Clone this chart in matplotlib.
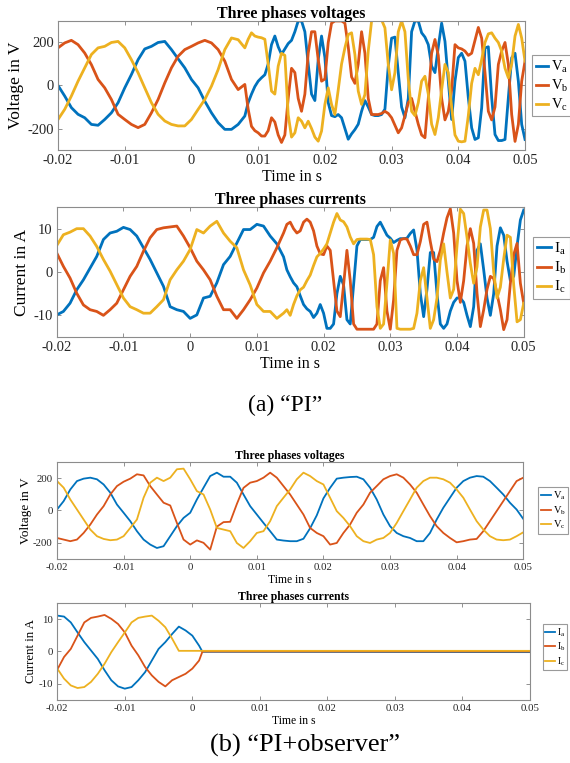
import numpy as np
import matplotlib
matplotlib.use('Agg')
import matplotlib.pyplot as plt

plt.rcParams['font.family'] = 'Liberation Serif'
plt.rcParams['mathtext.fontset'] = 'custom'
plt.rcParams['mathtext.rm'] = 'Liberation Serif'
plt.rcParams['mathtext.it'] = 'Liberation Serif:italic'
plt.rcParams['mathtext.bf'] = 'Liberation Serif:bold'

colores = ['#0072BD', '#D95319', '#EDB120']

# ---------- (a) PI : tensiones ----------
t_pi_v = np.concatenate([np.arange(-20, 9) * 1e-3, np.arange(17, 101) * 5e-4])
va_pi = [0, -49, -103, -134, -150, -181, -185, -158, -127, -80, -11, 51, 120, 170, 182,
         200, 205, 167, 124, 82, 28, -11, -73, -127, -173, -204, -204, -181, -142,
         -80, -40, -5, 20, 36, 50, 100, 190, 230, 180,
         145, 170, 195, 210, 250, 300, 300, 250, 100, -40,
         -70, 120, 230, 130, -80, -140, -145, -135, -150, -200,
         -250, -225, -205, -180, -120, -70, -100, -135, -140, -140,
         -135, -110, 90, 220, 225, 60, -100, -150, -60, 250,
         300, 300, 245, 225, 190, 90, 60, 180, 290, 205,
         20, -158, 20, 130, 150, 113, -57, -197, -251, -243,
         -104, 175, 180, -57, -228, -256, -256, -251, -57, 129,
         150, 20, -181, -251]
vb_pi = [175, 198, 210, 190, 151, 97, 28, -11, -65, -134, -158, -181, -196, -181, -127,
         -65, 12, 82, 136, 167, 182, 198, 210, 198, 167, 113, 28, -19, 5,
         -110, -190, -210, -220, -235, -235, -210, -150, -170, -230,
         -265, -230, -60, 80, 60, -60, -120, -40, 150, 250,
         250, 120, 20, 30, 200, 290, 300, 300, 300, 290,
         180, 40, 10, 100, 250, 150, -60, -135, -135, -135,
         -130, -120, -130, -150, -185, -220, -197, -140, -80, -60,
         -120, -180, -230, -243, -60, 150, 214, 140, -60, -160,
         -120, -20, 190, 175, 170, 160, 140, 150, 210, 270,
         220, 60, -120, -160, -100, 98, 160, 200, 98, -135,
         -260, -181, 20, 113]
vc_pi = [-158, -111, -49, 20, 82, 144, 175, 182, 200, 205, 175, 120, 59, -11, -80,
         -134, -165, -181, -188, -188, -158, -111, -65, -3, 74, 167, 221, 213, 175,
         215, 245, 230, 225, 222, 215, 100, -26, -40, 90,
         150, 140, -135, -240, -220, -150, -166, -197, -166, -200,
         -240, -259, -212, -88, -11, -88, -135, -20, 100, 175,
         237, 245, 144, -26, -88, -42, 160, 300, 305, 305,
         305, 268, 98, -20, 60, 250, 300, 250, 30, -120,
         -140, -80, 20, 43, -40, -180, -228, -150, -20, 98,
         60, -100, -230, -259, -262, -259, -140, 10, 80, 50,
         120, 200, 240, 245, 220, 200, 160, 80, 36, 100,
         230, 284, 220, 113]

# ---------- (a) PI : corrientes ----------
t_pi_i = np.concatenate([np.arange(-20, 15) * 1e-3, np.arange(29, 101) * 5e-4])
ia_pi = [-9.9, -9.1, -7.2, -4.1, -1.8, 0.9, 3.6, 7.5, 9.0, 9.4,
         10.3, 9.8, 8.3, 5.6, 2.9, -0.2, -3.3, -8.0, -8.7, -9.1,
         -10.7, -9.9, -6.0, -5.6, -2.5, 1.7, 3.6, 6.7, 9.8, 9.8,
         11.0, 10.6, 8.3, 6.5, 3.5,
         0.5, -1.1, -2.5, -3.4, -5.5, -7.5, -8.5, -9.1, -10.5, -9.5,
         -7.5, -9.5, -13, -13, -12, -5, -1, -3, -11, -12,
         -3, 6, 7.5, 7.5, 7.5, 7.5, 8, 10.5, 11.5, 10,
         8.5, 7.8, 6.8, 7.3, 7.7, 7.7, 7.8, 8.9, 9.7, 5.1,
         -4.9, -10.3, -4, 4.5, 4.5, -5, -12, -13, -12, -9,
         -7, -6, -6, -7, -10, -12.6, -8, 5, 6.5, 0.5,
         -6, -10, -5, 6, 10.2, 8.5, 2.5, -2, -1, 6,
         12, 14.3]
ib_pi = [4.4, 1.3, -1.4, -4.9, -7.6, -8.7, -9.1, -10.0, -8.7, -7.2,
         -4.1, -1.0, 1.3, 4.8, 7.9, 9.8, 10.2, 10.4, 10.6, 8.3,
         5.6, 2.5, 0.5, -1.8, -5.6, -8.7, -8.7, -10.7, -8.7, -6.4,
         -3.7, -0.2, 2.5, 5.6, 9.0,
         11, 11.5, 10, 9, 9.5, 11.5, 12.2, 11.5, 9.5, 6,
         4.2, 4, 6, 5, -2, -9, -10.3, -3, 5, -2,
         -12, -13.2, -13.2, -13.2, -13.2, -13.2, -13.2, -12, -2, 1,
         -9, -13.2, -6.4, 5, 7.4, 7.7, 7.6, 6, 4, 4,
         7, 11, 11.5, 7, 3, 2.4, 5, 9, 12.5, 14.6,
         9, -2, -7, -2, 6, 10, 6.6, -4.9, -12.6, -8.7,
         -4, -1, -1.5, -5, -8.7, -13.3, -11, -2.6, 4, 6.6,
         -2.6, -7.2]
ic_pi = [6.1, 8.6, 9.2, 10.0, 10.0, 8.3, 5.9, 2.9, 0.2, -2.9,
         -6.0, -8.0, -8.7, -9.5, -9.5, -8.0, -6.4, -1.8, 0.5, 2.5,
         5.2, 9.8, 9.0, 10.6, 11.7, 9.0, 7.1, 5.6, 0.5, -3.0,
         -7.5, -9.1, -9.1, -10.7, -9.5,
         -8.7, -10, -7.5, -5.5, -4.1, -3.5, -2, -0.7, 1.5, 3.5,
         4.3, 5.3, 6.5, 9, 11.5, 13.5, 12, 11.6, 10.4, 8.1,
         6.5, 7.5, 7.6, 7.6, 7.6, 7.5, 4, -8, -13, -12,
         -2.6, 7.4, 4.3, -13, -13.2, -13.2, -13.2, -13.2, -13, -9.5,
         -2, 1, -6, -13, -11, -6, 2.8, 6.5, 0, -6,
         -4, 6, 14.5, 13.5, 8, 2, -2.6, 1.2, 10.4, 14.3,
         14.3, 10, 0, -6, -3.5, 3, 8.5, 8, -3, -11.5,
         -11, -7.2]

# ---------- (b) PI+observer : tensiones ----------
t_obs_v = np.arange(-20, 51) * 1e-3
va_obs = [6, 58, 130, 182, 197, 203, 193, 161, 110, 37,
          -14, -66, -128, -180, -211, -232, -221, -159, -97, -46,
          -14, 68, 141, 213, 234, 209, 209, 172, 99, 27,
          -25, -77, -128, -180, -186,
          -190, -190, -175, -110, -30, 75, 140, 197, 203, 207,
          209, 193, 141, 68, -25, -97, -139, -159, -170, -190,
          -190, -139, -56, 17, 79, 141, 182, 203, 213, 209,
          182, 141, 99, 48, 6, -52]
vb_obs = [-170, -180, -190, -180, -139, -87, -25, 27, 99, 151,
          178, 197, 224, 217, 151, 99, 48, 31, -77, -180,
          -211, -185, -200, -242, -100, -72, -70, 40, 140, 172,
          182, 203, 234, 203, 151,
          99, 37, -25, -108, -139, -159, -211, -201, -139, -87,
          -14, 37, 110, 151, 193, 213, 224, 203, 161, 110,
          37, -35, -97, -139, -170, -197, -190, -180, -176, -128,
          -66, -4, 58, 120, 182, 203]
vc_obs = [182, 141, 68, 6, -56, -118, -159, -176, -184, -180,
          -159, -108, -56, 79, 172, 203, 182, 203, 255, 259,
          193, 120, 99, 6, -108, -118, -128, -201, -232, -190,
          -139, -128, -66, 27, 79,
          130, 193, 234, 213, 182, 161, 79, -4, -46, -97,
          -159, -190, -201, -180, -170, -139, -77, -4, 68, 141,
          182, 203, 203, 193, 172, 130, 79, 6, -66, -118,
          -159, -180, -184, -180, -159, -135]

# ---------- (b) PI+observer : corrientes ----------
t_obs_i = np.append(np.arange(-20, 2) * 1e-3, [0.0015, 0.05])
ia_obs = [11.1, 10.8, 9.0, 5.9, 2.9, 0.3, -2.3, -5.8, -8.9, -10.8,
          -11.5, -11.0, -8.9, -6.4, -2.8, 0.8, 2.9, 5.4, 7.7, 6.5,
          4.9, 1.8, -0.1, -0.2]
ib_obs = [-5.6, -1.7, 0.8, 4.9, 9.0, 10.4, 10.8, 11.3, 10.1, 8.5,
          5.9, 1.8, -1.2, -4.8, -7.4, -9.4, -10.8, -8.9, -7.9, -6.9,
          -5.3, -2.8, 0.0, 0.0]
ic_obs = [-5.3, -8.4, -10.5, -11.3, -11.0, -9.4, -6.9, -3.8, -0.2, 2.9,
          5.9, 9.0, 10.4, 10.8, 11.1, 9.5, 7.5, 4.0, 0.2, 0.2,
          0.2, 0.2, 0.2, 0.2]

x_ticks = [-0.02, -0.01, 0, 0.01, 0.02, 0.03, 0.04, 0.05]
x_labels = ['-0.02', '-0.01', '0', '0.01', '0.02', '0.03', '0.04', '0.05']

fig = plt.figure(figsize=(5.7, 7.63), dpi=100)


def panel(rect, t, series, labels, ylim, yticks, ylabels, title, ylabel,
          fs, lw, leg_xy, ylab_x, hlen=0.95):
    ax = fig.add_axes(rect)
    for s, c, lab in zip(series, colores, labels):
        ax.plot(t, s, color=c, lw=lw, label=lab)
    ax.set_xlim(-0.02, 0.05)
    ax.set_ylim(ylim)
    ax.set_xticks(x_ticks)
    ax.set_xticklabels(x_labels)
    ax.set_yticks(yticks)
    ax.set_yticklabels(ylabels)
    ax.tick_params(direction='in', top=True, right=True, labelsize=fs[0],
                   length=3, width=0.6, color='#808080', labelcolor='#262626', pad=3)
    for sp in ax.spines.values():
        sp.set_color('#8c8c8c')
        sp.set_linewidth(0.8)
    ax.set_title(title, fontweight='bold', fontsize=fs[1], pad=2.5)
    ax.set_xlabel('Time in s', fontsize=fs[2], labelpad=1)
    ax.set_ylabel(ylabel, fontsize=fs[3])
    ax.yaxis.set_label_coords(ylab_x, 0.5)
    leg = ax.legend(loc='upper left', bbox_to_anchor=leg_xy, bbox_transform=fig.transFigure,
                    fontsize=fs[4], fancybox=False, edgecolor='#9a9a9a', framealpha=1,
                    borderpad=0.25, handlelength=hlen, handletextpad=0.2,
                    labelspacing=0.2, borderaxespad=0)
    leg.get_frame().set_linewidth(0.8)
    return ax


panel([0.1018, 0.8034, 0.8193, 0.1691], t_pi_v, [va_pi, vb_pi, vc_pi],
      [r'V$_\mathrm{a}$', r'V$_\mathrm{b}$', r'V$_\mathrm{c}$'],
      (-300, 300), [-200, 0, 200], ['-200', '0', '200'],
      'Three phases voltages', 'Voltage in V', (10.5, 11.5, 11.5, 12.5, 10.5), 2.0,
      (0.9333, 0.9279), -0.072, hlen=0.85)

panel([0.0995, 0.5583, 0.8193, 0.1704], t_pi_i, [ia_pi, ib_pi, ic_pi],
      [r'I$_\mathrm{a}$', r'I$_\mathrm{b}$', r'I$_\mathrm{c}$'],
      (-15, 15), [-10, 0, 10], ['-10', '0', '10'],
      'Three phases currents', 'Current in A', (10.5, 11.5, 11.5, 12.5, 11), 2.0,
      (0.9350, 0.6894), -0.058)

panel([0.1000, 0.2674, 0.8180, 0.1271], t_obs_v, [va_obs, vb_obs, vc_obs],
      [r'V$_\mathrm{a}$', r'V$_\mathrm{b}$', r'V$_\mathrm{c}$'],
      (-300, 300), [-200, 0, 200], ['-200', '0', '200'],
      'Three phases voltages', 'Voltage in V', (7.8, 8.5, 8.4, 9.5, 7.5), 1.3,
      (0.9439, 0.3617), -0.054)

panel([0.1005, 0.0826, 0.8293, 0.1271], t_obs_i, [ia_obs, ib_obs, ic_obs],
      [r'I$_\mathrm{a}$', r'I$_\mathrm{b}$', r'I$_\mathrm{c}$'],
      (-15, 15), [-10, 0, 10], ['-10', '0', '10'],
      'Three phases currents', 'Current in A', (7.8, 8.5, 8.4, 9.3, 7.0), 1.3,
      (0.9526, 0.1822), -0.042)

fig.text(0.5, 1 - 405 / 763, '(a) \u201cPI\u201d', ha='center', va='center', fontsize=17)
fig.text(0.535, 1 - 745 / 763, '(b) \u201cPI+observer\u201d', ha='center', va='center', fontsize=19)

fig.savefig('out.png', dpi=100)
